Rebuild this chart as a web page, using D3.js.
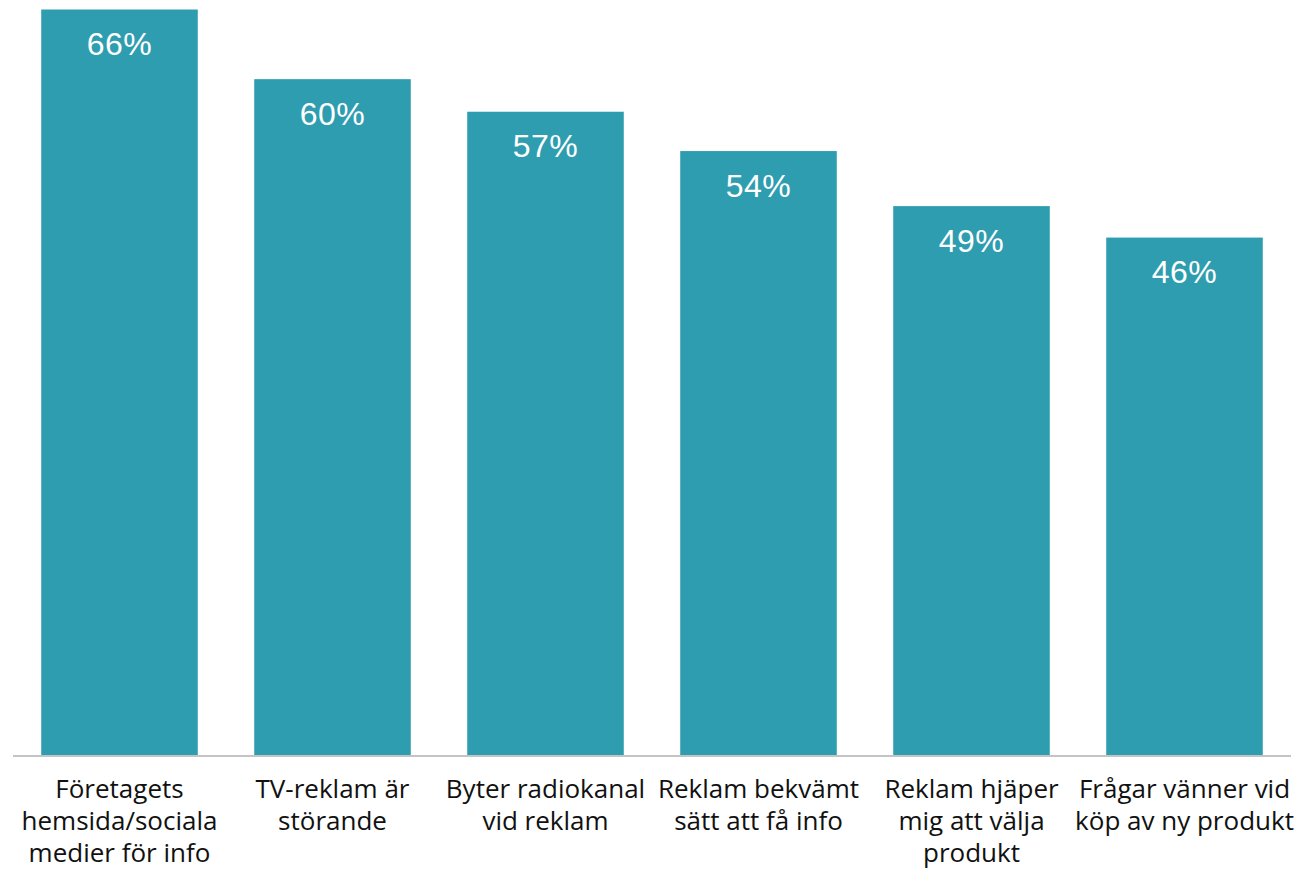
<!DOCTYPE html>
<html>
<head>
<meta charset="utf-8">
<script src="https://cdn.jsdelivr.net/npm/d3@7"></script>
<style>
  body { margin: 0; background: #fff; }
</style>
</head>
<body>
<div id="chart"></div>
<script>
// data
const categories = [
  'Företagets\nhemsida/sociala\nmedier för info',
  'TV-reklam är\nstörande',
  'Byter radiokanal\nvid reklam',
  'Reklam bekvämt\nsätt att få info',
  'Reklam hjäper\nmig att välja\nprodukt',
  'Frågar vänner vid\nköp av ny produkt'
];
const values = [66.4, 60.2, 57.3, 53.8, 48.9, 46.1];

const width = 1309;
const height = 874;
const baseY = 755.5;

const svg = d3
  .select('#chart')
  .append('svg')
  .attr('width', width)
  .attr('height', height);

const x = d3
  .scaleBand()
  .domain(categories)
  .range([13, 1291])
  .paddingInner(0.265)
  .paddingOuter(0.1325);

const y = d3
  .scaleLinear()
  .domain([0, d3.max(values)])
  .range([baseY, 9.5]);

const data = categories.map((c, i) => ({ cat: c, val: values[i] }));

// bars
svg
  .selectAll('rect.bar')
  .data(data)
  .join('rect')
  .attr('class', 'bar')
  .attr('x', (d) => x(d.cat))
  .attr('y', (d) => y(d.val))
  .attr('width', x.bandwidth())
  .attr('height', (d) => baseY - y(d.val))
  .attr('fill', '#2f9db0');

// value labels
svg
  .selectAll('text.val')
  .data(data)
  .join('text')
  .attr('class', 'val')
  .attr('x', (d) => x(d.cat) + x.bandwidth() / 2)
  .attr('y', (d) => y(d.val) + 45.5)
  .attr('text-anchor', 'middle')
  .attr('fill', '#fff')
  .style('font-family', '"Liberation Sans", Arial, sans-serif')
  .style('font-size', '32px')
  .style('letter-spacing', '0.5px')
  .text((d) => Math.round(d.val) + '%');

// baseline
svg
  .append('line')
  .attr('x1', 13)
  .attr('x2', 1291)
  .attr('y1', baseY + 0.5)
  .attr('y2', baseY + 0.5)
  .attr('stroke', '#c4c4c4')
  .attr('stroke-width', 2);

// category labels
const labels = svg
  .selectAll('text.cat')
  .data(data)
  .join('text')
  .attr('class', 'cat')
  .attr('text-anchor', 'middle')
  .attr('fill', '#111')
  .style('font-family', '"Open Sans", sans-serif')
  .style('font-size', '26px');

labels
  .selectAll('tspan')
  .data((d) => d.cat.split('\n').map((t) => ({ t, cx: x(d.cat) + x.bandwidth() / 2 })))
  .join('tspan')
  .attr('x', (d) => d.cx)
  .attr('y', (d, i) => 798 + i * 32)
  .text((d) => d.t);
</script>
</body>
</html>
